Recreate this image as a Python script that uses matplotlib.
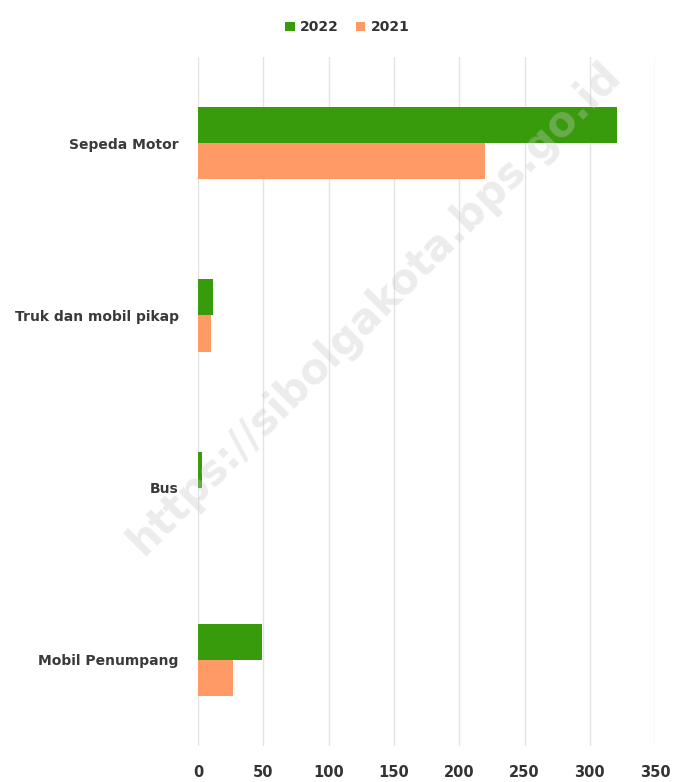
import matplotlib.pyplot as plt
import numpy as np

# data
categories = ['Sepeda Motor', 'Truk dan mobil pikap', 'Bus', 'Mobil Penumpang']
val_2022 = [321, 11, 3, 49]
val_2021 = [220, 10, 0, 27]
xticks = [0, 50, 100, 150, 200, 250, 300, 350]

green = '#389b0c'
orange = '#ff9966'
text_col = '#333333'

fig = plt.figure(figsize=(6.81, 7.82), dpi=100)
ax = fig.add_axes([0.291, 0.046, 0.671, 0.881])

y = np.arange(len(categories))
h = 0.21
ax.barh(y - h / 2, val_2022, height=h, color=green, label='2022', zorder=2)
ax.barh(y + h / 2, val_2021, height=h, color=orange, label='2021', zorder=2)

ax.set_ylim(len(categories) - 0.5, -0.5)
ax.set_xlim(0, 350)
ax.set_yticks(y)
ax.set_yticklabels(categories, fontsize=10, fontweight='bold', color='#3a3a3a')
ax.set_xticks(xticks)
ax.set_xticklabels([str(t) for t in xticks], fontsize=10.5, fontweight='bold', color=text_col)
ax.tick_params(axis='y', length=0, pad=14)
ax.tick_params(axis='x', length=0, pad=14)
ax.grid(axis='x', color='#e3e3e3', linewidth=1, zorder=0)
for s in ax.spines.values():
    s.set_visible(False)

leg = fig.legend(loc='upper center', bbox_to_anchor=(0.51, 0.99), ncol=2, frameon=False,
                 handlelength=0.7, handleheight=0.7, handletextpad=0.4, columnspacing=1.2,
                 prop={'size': 10, 'weight': 'bold'})
for t in leg.get_texts():
    t.set_color(text_col)

# watermark
fig.text(0.55, 0.605, 'https://sibolgakota.bps.go.id', rotation=45, fontsize=30,
         fontweight='bold', color='#c8c8c8', alpha=0.35, ha='center', va='center', zorder=10)

fig.savefig('out.png', dpi=100)
